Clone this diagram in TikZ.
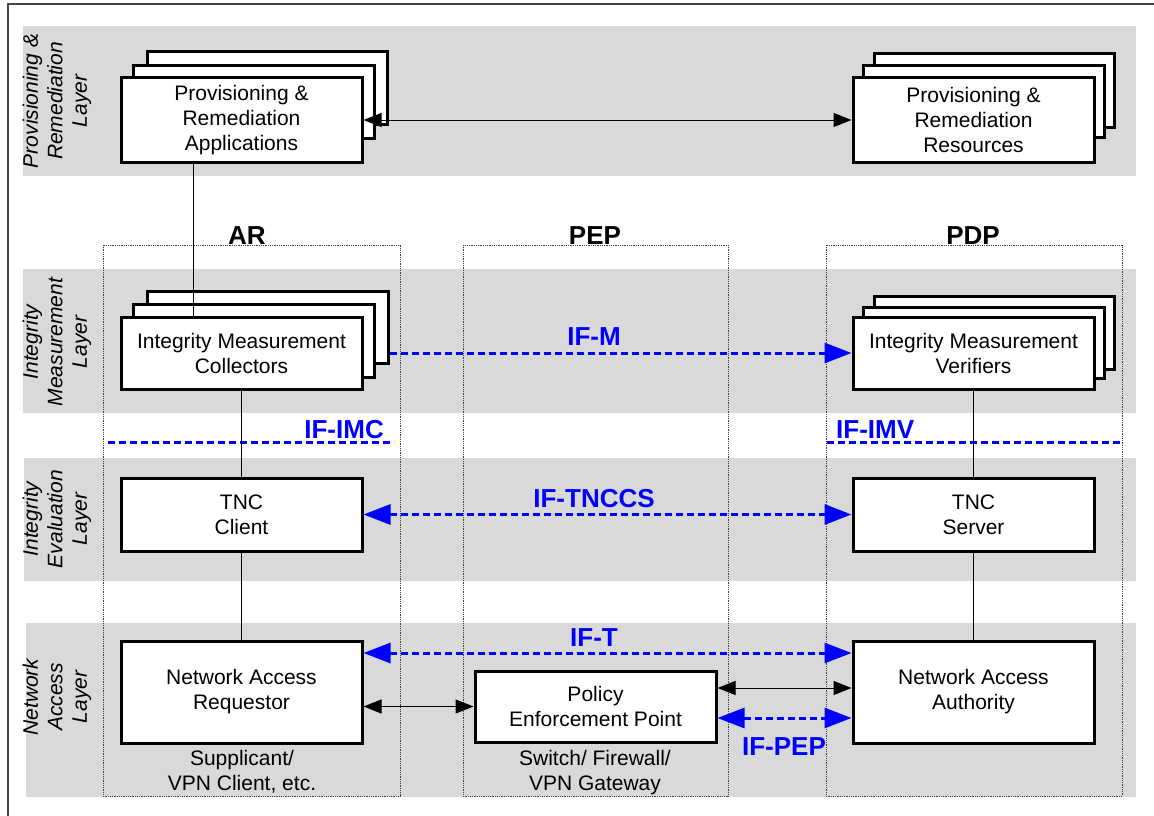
\documentclass[tikz,border=0pt]{standalone}
\usepackage{fontspec}
\setmainfont{Liberation Sans}
\usetikzlibrary{arrows.meta}
\definecolor{band}{RGB}{217,217,217}
\definecolor{ifblue}{RGB}{0,0,255}
\definecolor{framegray}{RGB}{70,70,70}
\begin{document}
\begin{tikzpicture}[x=1pt,y=-1pt,
  box/.style={draw=black, line width=3pt, fill=white, inner sep=0pt, align=center,
    font=\fontsize{21}{25}\selectfont, minimum width=241pt},
  backbox/.style={draw=black, line width=3pt, fill=white, inner sep=0pt},
  lay/.style={rotate=90, align=center, font=\fontsize{21}{24.5}\selectfont\itshape},
  col/.style={draw=black!75, densely dotted, line width=0.8pt},
  colname/.style={font=\fontsize{26}{30}\selectfont\bfseries, inner sep=0pt},
  sub/.style={font=\fontsize{21}{25}\selectfont, inner sep=0pt},
  iflabel/.style={font=\fontsize{26}{30}\selectfont\bfseries, text=ifblue, inner sep=0pt},
  ifline/.style={draw=ifblue, line width=3pt, dash pattern=on 7pt off 4pt},
  ifboth/.style={ifline, {Triangle[length=27pt,width=20pt]}-{Triangle[length=27pt,width=20pt]}},
  ifone/.style={ifline, -{Triangle[length=27pt,width=20pt]}},
  blk/.style={draw=black, line width=1pt, {Triangle[length=18pt,width=14pt]}-{Triangle[length=18pt,width=14pt]}},
  conn/.style={draw=black, line width=1pt}
]
\useasboundingbox (0,0) rectangle (1154,816);
\fill[white] (0,0) rectangle (1154,816);
\draw[framegray, line width=1.5pt] (8,816) -- (8,4) -- (1154,4);

% layer bands
\fill[band] (23,26) rectangle (1136,176);
\fill[band] (23,269) rectangle (1136,413);
\fill[band] (24,458) rectangle (1136,581);
\fill[band] (26,623) rectangle (1136,797);

% columns
\draw[col] (103,245) rectangle (400,796);
\draw[col] (463,245) rectangle (728,796);
\draw[col] (826,245) rectangle (1122,796);
\node[colname, anchor=base] (arlab) at (247,244) {AR};
\node[colname, anchor=base] (peplab) at (595,244) {PEP};
\node[colname, anchor=base] (pdplab) at (973,244) {PDP};

% layer labels
\node[lay] (l1) at (57,101) {Provisioning \&\\Remediation\\Layer};
\node[lay] (l2) at (57,342) {Integrity\\Measurement\\Layer};
\node[lay] (l3) at (57,519) {Integrity\\Evaluation\\Layer};
\node[lay] (l4) at (57,697) {Network\\Access\\Layer};

% stacked boxes
\node[backbox, minimum width=240pt, minimum height=72pt] (pra3) at (267,88) {};
\node[backbox, minimum width=241pt, minimum height=72pt] (pra2) at (253.5,102) {};
\node[box, minimum height=84pt] (pra) at (241.5,120) {Provisioning \&\\Remediation\\Applications};

\node[backbox, minimum width=240pt, minimum height=73pt] (prr3) at (994,90.5) {};
\node[backbox, minimum width=241pt, minimum height=71pt] (prr2) at (983.5,101.5) {};
\node[box, minimum height=84pt] (prr) at (973.5,120) {Provisioning \&\\Remediation\\Resources};

\node[backbox, minimum width=241pt, minimum height=72pt] (imc3) at (267.5,327) {};
\node[backbox, minimum width=241pt, minimum height=73pt] (imc2) at (253.5,340.5) {};
\node[box, minimum height=72pt] (imc) at (241.5,353) {Integrity Measurement\\Collectors};

\node[backbox, minimum width=240pt, minimum height=73pt] (imv3) at (994,332.5) {};
\node[backbox, minimum width=241pt, minimum height=71pt] (imv2) at (983.5,342.5) {};
\node[box, minimum height=72pt] (imv) at (973.5,353) {Integrity Measurement\\Verifiers};

\node[box, minimum height=73pt] (tncc) at (241.5,514.5) {TNC\\Client};
\node[box, minimum height=73pt] (tncs) at (973.5,514.5) {TNC\\Server};

\node[box, minimum height=102pt] (nar) at (241.5,692) {Network Access\\Requestor};
\node[box, minimum height=102pt] (naa) at (973.5,692) {Network Access\\Authority};
\node[box, minimum height=71pt] (pep) at (595.5,706.5) {Policy\\Enforcement Point};

% sub labels
\node[sub, anchor=base] (s1) at (242,765) {Supplicant/};
\node[sub, anchor=base] (s2) at (242,790) {VPN Client, etc.};
\node[sub, anchor=base] (s3) at (595,765) {Switch/ Firewall/};
\node[sub, anchor=base] (s4) at (595,790) {VPN Gateway};

% IF-IMC / IF-IMV separators
\coordinate (imcL) at (108,442);
\coordinate (imcR) at (394,442);
\coordinate (imvL) at (827,442);
\coordinate (imvR) at (1121,442);
\draw[ifline] (imcL) -- (imcR);
\draw[ifline] (imvL) -- (imvR);
\node[iflabel, anchor=base east] (ifimc) at (384,438) {IF-IMC};
\node[iflabel, anchor=base west] (ifimv) at (836,438) {IF-IMV};

% vertical connectors
\coordinate (px) at (193,0);
\draw[conn] (pra.south -| px) -- (imc.north -| px);
\draw[conn] (imc.south) -- (tncc.north);
\draw[conn] (tncc.south) -- (nar.north);
\draw[conn] (imv.south) -- (tncs.north);
\draw[conn] (tncs.south) -- (naa.north);

% horizontal connectors
\draw[blk] (pra.east) -- (prr.west);
\draw[ifone] (imc3.east |- imc.east) -- (imv.west);
\node[iflabel, anchor=base] (ifm) at (594,345) {IF-M};
\draw[ifboth] (tncc.east) -- (tncs.west);
\node[iflabel, anchor=base] (iftnccs) at (594,507) {IF-TNCCS};

\coordinate (yT) at (0,653);
\coordinate (yA) at (0,688);
\coordinate (yP) at (0,718);
\draw[ifboth] (nar.east |- yT) -- (naa.west |- yT);
\node[iflabel, anchor=base] (ift) at (594,646) {IF-T};
\draw[blk] (nar.east |- pep.west) -- (pep.west);
\draw[blk] (pep.east |- yA) -- (naa.west |- yA);
\draw[ifboth] (pep.east |- yP) -- (naa.west |- yP);
\node[iflabel, anchor=base] (ifpep) at (784,755) {IF-PEP};
\end{tikzpicture}
\end{document}
